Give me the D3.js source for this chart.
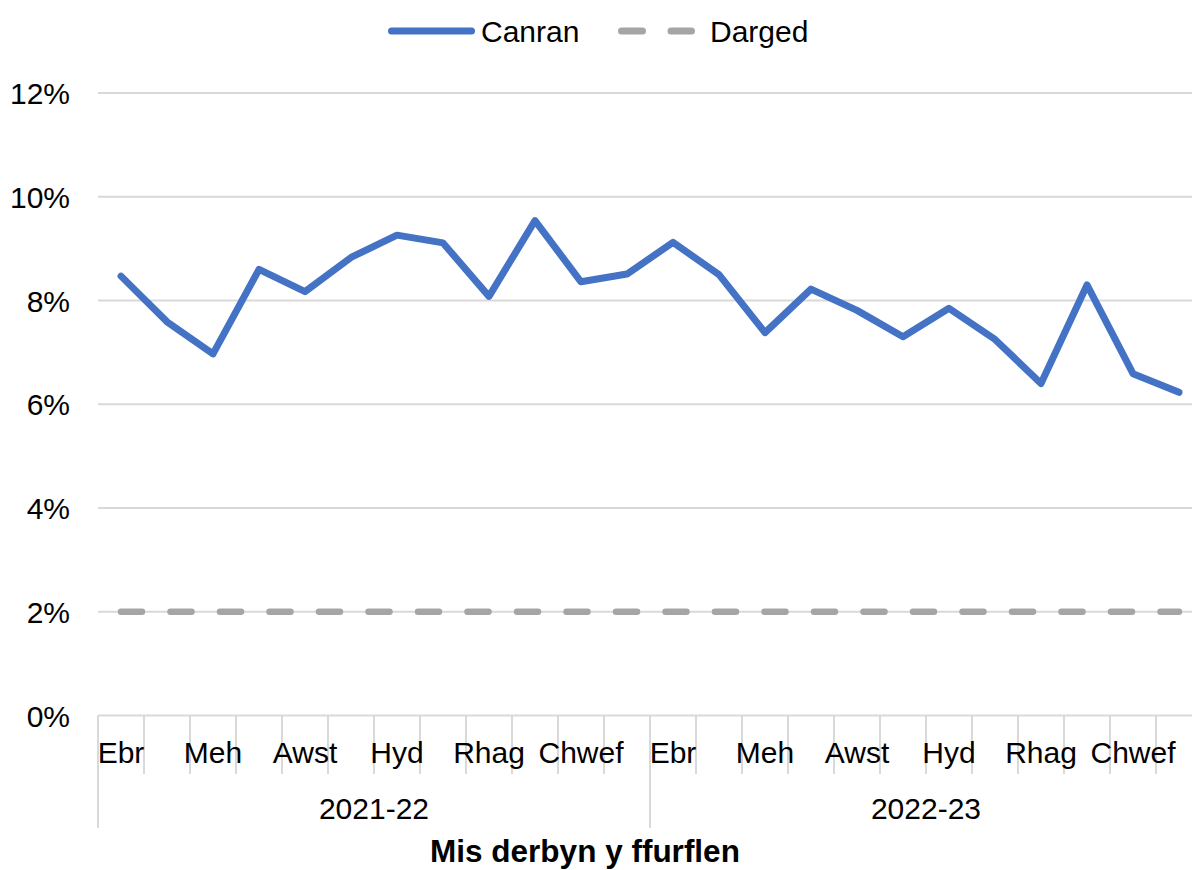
<!DOCTYPE html>
<html>
<head>
<meta charset="utf-8">
<script src="https://cdn.jsdelivr.net/npm/d3@7"></script>
<style>
  html, body { margin: 0; padding: 0; background: #fff; }
  svg { display: block; font-family: "Liberation Sans", Arial, sans-serif; }
</style>
</head>
<body>
<div id="chart"></div>
<script>
// Months of the financial year (Welsh), repeated for each year.
var months = ['Ebr', 'Mai', 'Meh', 'Gorff', 'Awst', 'Medi', 'Hyd', 'Tach', 'Rhag', 'Ion', 'Chwef', 'Maw'];
var years = ['2021-22', '2022-23'];

// Percentage each month (Canran) and the target (Darged).
var canran = [8.47, 7.59, 6.97, 8.60, 8.17, 8.83, 9.26, 9.11, 8.08, 9.54, 8.36, 8.51,
              9.12, 8.50, 7.38, 8.22, 7.81, 7.30, 7.85, 7.25, 6.40, 8.30, 6.59, 6.23];
var darged = [2, 2, 2, 2, 2, 2, 2, 2, 2, 2, 2, 2,
              2, 2, 2, 2, 2, 2, 2, 2, 2, 2, 2, 2];

var yTicks = [0, 2, 4, 6, 8, 10, 12];
var seriesNames = ['Canran', 'Darged'];
var xTitle = 'Mis derbyn y ffurflen';

(function() {
  'use strict';

  var width = 1192, height = 870;
  var plot = {left: 98, right: 1202, top: 93, bottom: 715.5};

  var blue = '#4472c4', grey = '#a5a5a5', gridColor = '#d9d9d9';
  var fontSize = 30;

  // One row per month across both years.
  var rows = [];
  years.forEach(function(yr, yi) {
    months.forEach(function(m, mi) {
      var i = yi * months.length + mi;
      rows.push({i: i, month: m, year: yr, canran: canran[i], darged: darged[i]});
    });
  });

  var xScale = d3.scaleBand()
      .domain(rows.map(function(d) { return d.i; }))
      .range([plot.left, plot.right])
      .padding(0);

  var yScale = d3.scaleLinear()
      .domain([0, 12])
      .range([plot.bottom, plot.top]);

  var cx = function(d) { return xScale(d.i) + xScale.bandwidth() / 2; };

  var svg = d3.select('#chart').append('svg')
      .attr('width', width)
      .attr('height', height)
      .style('overflow', 'hidden');

  // Gridlines.
  svg.append('g').selectAll('line')
      .data(yTicks)
      .enter().append('line')
      .attr('x1', plot.left)
      .attr('x2', plot.right)
      .attr('y1', function(d) { return yScale(d); })
      .attr('y2', function(d) { return yScale(d); })
      .attr('stroke', gridColor)
      .attr('stroke-width', 2);

  // Y axis labels.
  var yAxis = d3.axisLeft(yScale)
      .tickValues(yTicks)
      .tickSize(0)
      .tickPadding(0)
      .tickFormat(function(d) { return d + '%'; });

  svg.append('g')
      .attr('transform', 'translate(70,0)')
      .call(yAxis)
      .call(function(g) { g.select('.domain').remove(); })
      .selectAll('text')
      .attr('font-family', '"Liberation Sans", Arial, sans-serif')
      .attr('font-size', fontSize)
      .attr('fill', '#000')
      .attr('dy', '0.35em');

  // Category axis: month ticks and year separators.
  var axisG = svg.append('g');
  var boundaries = d3.range(rows.length + 1);

  axisG.selectAll('line.month-tick')
      .data(boundaries)
      .enter().append('line')
      .attr('class', 'month-tick')
      .attr('x1', function(i) { return i < rows.length ? xScale(i) : plot.right; })
      .attr('x2', function(i) { return i < rows.length ? xScale(i) : plot.right; })
      .attr('y1', plot.bottom)
      .attr('y2', function(i) { return i % months.length === 0 ? 828 : 774; })
      .attr('stroke', gridColor)
      .attr('stroke-width', 2);

  axisG.selectAll('text.month')
      .data(rows.filter(function(d) { return d.i % 2 === 0; }))
      .enter().append('text')
      .attr('class', 'month')
      .attr('x', cx)
      .attr('y', 752)
      .attr('dy', '0.35em')
      .attr('text-anchor', 'middle')
      .attr('font-size', fontSize)
      .text(function(d) { return d.month; });

  axisG.selectAll('text.year')
      .data(years)
      .enter().append('text')
      .attr('class', 'year')
      .attr('x', function(d, yi) {
        var first = yi * months.length, last = first + months.length - 1;
        return (xScale(first) + xScale(last) + xScale.bandwidth()) / 2;
      })
      .attr('y', 808)
      .attr('dy', '0.35em')
      .attr('text-anchor', 'middle')
      .attr('font-size', fontSize)
      .text(function(d) { return d; });

  svg.append('text')
      .attr('x', 585)
      .attr('y', 851)
      .attr('dy', '0.35em')
      .attr('text-anchor', 'middle')
      .attr('font-size', 31.5)
      .attr('font-weight', 'bold')
      .text(xTitle);

  // Lines.
  var line = function(key) {
    return d3.line()
        .x(cx)
        .y(function(d) { return yScale(d[key]); });
  };

  svg.append('path')
      .datum(rows)
      .attr('d', line('darged'))
      .attr('fill', 'none')
      .attr('stroke', grey)
      .attr('stroke-width', 6.5)
      .attr('stroke-linecap', 'round')
      .attr('stroke-dasharray', '21,28.5');

  svg.append('path')
      .datum(rows)
      .attr('d', line('canran'))
      .attr('fill', 'none')
      .attr('stroke', blue)
      .attr('stroke-width', 7)
      .attr('stroke-linecap', 'round')
      .attr('stroke-linejoin', 'round');

  // Legend.
  var legend = svg.append('g');
  var legendItems = [
    {name: seriesNames[0], x1: 391.5, x2: 471.5, tx: 481, color: blue, dash: null},
    {name: seriesNames[1], x1: 621.5, x2: 691.5, tx: 710, color: grey, dash: '21,28.5'}
  ];
  legendItems.forEach(function(it) {
    legend.append('line')
        .attr('x1', it.x1).attr('x2', it.x2)
        .attr('y1', 31).attr('y2', 31)
        .attr('stroke', it.color)
        .attr('stroke-width', 7)
        .attr('stroke-linecap', 'round')
        .attr('stroke-dasharray', it.dash);
    legend.append('text')
        .attr('x', it.tx)
        .attr('y', 31)
        .attr('dy', '0.35em')
        .attr('font-size', fontSize)
        .text(it.name);
  });
})();
</script>
</body>
</html>
